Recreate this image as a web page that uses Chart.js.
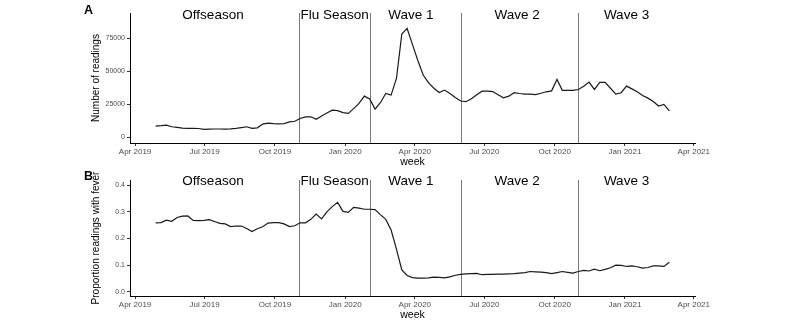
<!DOCTYPE html>
<html>
<head>
<meta charset="utf-8">
<script src="https://cdn.jsdelivr.net/npm/chart.js@4.4.1/dist/chart.umd.min.js"></script>
<style>
  html, body { margin: 0; padding: 0; background: #fff; }
  #wrap { position: relative; width: 800px; height: 333px; overflow: hidden; }
  .panel { position: absolute; left: 0; width: 800px; }
</style>
</head>
<body>
<div id="wrap">
  <div class="panel" style="top:0;height:170px"><canvas id="chartA"></canvas></div>
  <div class="panel" style="top:165px;height:168px"><canvas id="chartB"></canvas></div>
</div>
<script>
// weekly series, first week 2019-04-28
const firstWeek = '2019-04-28';

const readings = [
  8300, 8600, 9000, 7800, 7300, 6700, 6600, 6600, 6500, 5900,
  6000, 6100, 6100, 6000, 6200, 6600, 7200, 7800, 6600, 7000,
  9800, 10500, 10200, 10000, 10200, 11500, 12000, 14100, 15300, 15400,
  13400, 16000, 18200, 20400, 20000, 18500, 17900, 21500, 25500, 31000,
  28800, 21200, 26000, 33100, 31800, 44400, 78000, 82300, 70000, 58000,
  47000, 41000, 37000, 33800, 35600, 33000, 30000, 27300, 26800, 29000,
  32000, 34800, 34800, 34500, 32000, 29800, 31000, 33600, 33000, 32600,
  32500, 32200, 33200, 34300, 35000, 43700, 35400, 35400, 35400, 36000,
  38500, 41700, 36100, 41400, 41400, 37000, 32600, 33600, 38600, 36500,
  34300, 31500, 29500, 27000, 23500, 24800, 19900
];

const feverShare = [
  0.259, 0.260, 0.269, 0.265, 0.279, 0.284, 0.285, 0.268, 0.267, 0.268,
  0.271, 0.264, 0.257, 0.255, 0.245, 0.247, 0.247, 0.238, 0.226, 0.237,
  0.244, 0.258, 0.260, 0.260, 0.255, 0.245, 0.248, 0.259, 0.259, 0.272,
  0.292, 0.274, 0.300, 0.320, 0.336, 0.302, 0.298, 0.317, 0.314, 0.310,
  0.310, 0.309, 0.290, 0.272, 0.232, 0.160, 0.082, 0.061, 0.053, 0.051,
  0.051, 0.052, 0.055, 0.054, 0.052, 0.056, 0.062, 0.065, 0.067, 0.068,
  0.069, 0.064, 0.065, 0.065, 0.066, 0.066, 0.067, 0.068, 0.070, 0.072,
  0.076, 0.075, 0.074, 0.072, 0.068, 0.072, 0.076, 0.073, 0.070, 0.076,
  0.080, 0.078, 0.085, 0.079, 0.084, 0.090, 0.100, 0.099, 0.095, 0.097,
  0.094, 0.089, 0.091, 0.097, 0.097, 0.095, 0.111
];

// period boundaries and labels
const periodStarts = ['2019-11-01', '2020-02-03', '2020-06-01', '2020-11-01'];
const periodNames = ['Offseason', 'Flu Season', 'Wave 1', 'Wave 2', 'Wave 3'];
const periodLabelDates = ['2019-07-12', '2019-12-18', '2020-03-27', '2020-08-13', '2021-01-03'];

const xTickDates = ['2019-04-01', '2019-07-01', '2019-10-01', '2020-01-01', '2020-04-01',
                    '2020-07-01', '2020-10-01', '2021-01-01', '2021-04-01'];
const readingTicks = [0, 25000, 50000, 75000];
const feverTicks = [0, 0.1, 0.2, 0.3, 0.4];

const MONTHS = ['Jan','Feb','Mar','Apr','May','Jun','Jul','Aug','Sep','Oct','Nov','Dec'];
const toDay = s => Date.parse(s + 'T00:00:00Z') / 864e5;
const dayLabel = d => {
  const dt = new Date(Math.round(d) * 864e5);
  return MONTHS[dt.getUTCMonth()] + ' ' + dt.getUTCFullYear();
};

const weekDays = readings.map((v, i) => toDay(firstWeek) + i * 7);
// ggplot default 5% expansion of the x range
const xSpan = weekDays[weekDays.length - 1] - weekDays[0];
const xMin = weekDays[0] - 0.05 * xSpan;
const xMax = weekDays[weekDays.length - 1] + 0.05 * xSpan;

const FONT = "'Liberation Sans', Arial, sans-serif";

function periodsPlugin(letter, labelValue) {
  return {
    id: 'periods',
    beforeDatasetsDraw(chart) {
      const { ctx, chartArea, scales } = chart;
      ctx.save();
      ctx.strokeStyle = '#7a7a7a';
      ctx.lineWidth = 1;
      periodStarts.forEach(d => {
        const px = Math.round(scales.x.getPixelForValue(toDay(d))) + 0.5;
        ctx.beginPath();
        ctx.moveTo(px, chartArea.top);
        ctx.lineTo(px, chartArea.bottom);
        ctx.stroke();
      });
      ctx.restore();
    },
    afterDraw(chart) {
      const { ctx, scales } = chart;
      ctx.save();
      ctx.fillStyle = '#000';
      ctx.font = '13.5px ' + FONT;
      ctx.textAlign = 'center';
      ctx.textBaseline = 'middle';
      periodNames.forEach((name, i) => {
        ctx.fillText(name, scales.x.getPixelForValue(toDay(periodLabelDates[i])),
                     scales.y.getPixelForValue(labelValue));
      });
      ctx.font = 'bold 12.5px ' + FONT;
      ctx.textAlign = 'left';
      ctx.textBaseline = 'alphabetic';
      ctx.fillText(letter.text, letter.x, letter.y);
      ctx.restore();
    }
  };
}

function makeChart(id, values, cfg) {
  return new Chart(document.getElementById(id), {
    type: 'line',
    data: {
      datasets: [{
        data: values.map((v, i) => ({ x: weekDays[i], y: v })),
        borderColor: '#1a1a1a',
        borderWidth: 1.2,
        pointRadius: 0,
        tension: 0,
        fill: false
      }]
    },
    options: {
      responsive: true,
      maintainAspectRatio: false,
      animation: false,
      layout: { padding: cfg.padding },
      plugins: { legend: { display: false }, tooltip: { enabled: false } },
      scales: {
        x: {
          type: 'linear',
          min: xMin,
          max: xMax,
          afterBuildTicks: s => { s.ticks = xTickDates.map(d => ({ value: toDay(d) })); },
          afterFit: s => { s.height = cfg.xHeight; s.paddingLeft = 0; s.paddingRight = 0; },
          grid: { drawOnChartArea: false, drawTicks: true, tickLength: 3, color: '#333' },
          border: { display: true, color: '#000', width: 1 },
          ticks: {
            autoSkip: false, maxRotation: 0, minRotation: 0, padding: 1,
            color: '#4d4d4d', font: { family: FONT, size: 8 },
            callback: v => dayLabel(v)
          },
          title: { display: true, text: 'week', color: '#000',
                   font: { family: FONT, size: 10.5 }, padding: { top: 0, bottom: 0 } }
        },
        y: {
          min: cfg.yMin,
          max: cfg.yMax,
          afterBuildTicks: s => { s.ticks = cfg.yTicks.map(v => ({ value: v })); },
          afterFit: s => { s.width = cfg.yWidth; s.paddingTop = 0; s.paddingBottom = 0; },
          grid: { drawOnChartArea: false, drawTicks: true, tickLength: 3, color: '#333' },
          border: { display: true, color: '#000', width: 1 },
          ticks: {
            padding: 2, color: '#4d4d4d', font: { family: FONT, size: 7 },
            callback: cfg.yFormat
          },
          title: { display: true, text: cfg.yTitle, color: '#000',
                   font: { family: FONT, size: 10 }, padding: { top: 0, bottom: 0 } }
        }
      }
    },
    plugins: [periodsPlugin(cfg.letter, cfg.labelValue)]
  });
}

makeChart('chartA', readings, {
  padding: { left: 90, right: 105, top: 13, bottom: 2 },
  xHeight: 25,
  yWidth: 40,
  yMin: -4500,
  yMax: 94000,
  yTicks: readingTicks,
  yFormat: v => String(v),
  yTitle: 'Number of readings',
  labelValue: 92000,
  letter: { text: 'A', x: 84, y: 14 }
});

makeChart('chartB', feverShare, {
  padding: { left: 90, right: 105, top: 15, bottom: 11.5 },
  xHeight: 25.5,
  yWidth: 40,
  yMin: -0.016,
  yMax: 0.42,
  yTicks: feverTicks,
  yFormat: v => v.toFixed(1),
  yTitle: 'Proportion readings with fever',
  labelValue: 0.416,
  letter: { text: 'B', x: 84, y: 15 }
});
</script>
</body>
</html>
